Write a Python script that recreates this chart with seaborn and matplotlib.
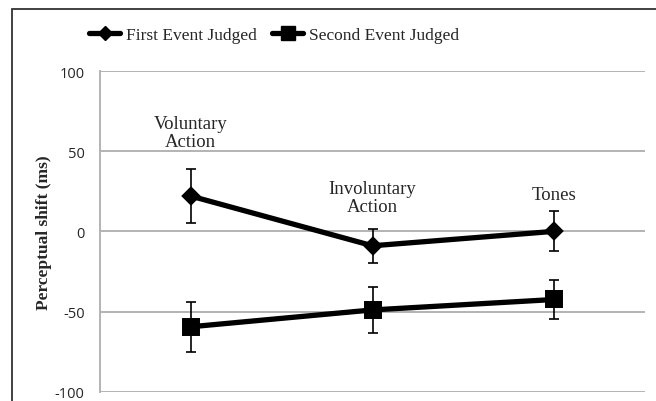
import numpy as np
import pandas as pd
import matplotlib
matplotlib.use("Agg")
import matplotlib.pyplot as plt
import seaborn as sns
from matplotlib.patches import Rectangle
from matplotlib.lines import Line2D

conditions = ["Voluntary\nAction", "Involuntary\nAction", "Tones"]
series_names = ["First Event Judged", "Second Event Judged"]
first_mean = [22, -9, 0]
first_err = [17, 10.5, 12.5]
second_mean = [-59.5, -49, -42.5]
second_err = [15.5, 14.5, 12]

df = pd.DataFrame({
    "condition": conditions * 2,
    "series": [series_names[0]] * 3 + [series_names[1]] * 3,
    "shift": first_mean + second_mean,
})

sns.set_style("white")
plt.rcParams["axes.unicode_minus"] = False
serif = ["Liberation Serif", "DejaVu Serif"]

fig = plt.figure(figsize=(6.56, 4.02), dpi=100)
ax = fig.add_axes([100 / 656, 9.3 / 402, 545 / 656, 320.7 / 402])

sns.pointplot(data=df, x="condition", y="shift", hue="series",
              palette=["black", "black"], markers=["D", "s"],
              linestyles=["-", "-"], errorbar=None, ax=ax,
              markersize=9, linewidth=3.8, legend=False)
for ln in ax.lines:
    if ln.get_marker() == "D":
        ln.set_markersize(7.5)
    elif ln.get_marker() == "s":
        ln.set_markersize(10)

for means, errs in [(first_mean, first_err), (second_mean, second_err)]:
    ax.errorbar(np.arange(len(conditions)), means, yerr=errs, fmt="none",
                ecolor="black", elinewidth=1.2, capsize=3.6, capthick=1.2,
                zorder=5)

ax.set_xlim(-0.5, 2.5)
ax.set_ylim(-100, 100)
ax.set_yticks([-100, -50, 0, 50, 100])
ax.yaxis.grid(True, color="#b3b3b3", linewidth=1.4)
ax.set_axisbelow(True)
for s in ["top", "right", "bottom"]:
    ax.spines[s].set_visible(False)
ax.spines["left"].set_color("#b3b3b3")
ax.spines["left"].set_linewidth(1.4)
ax.tick_params(axis="y", length=4, color="#b3b3b3", width=1.2, pad=7,
               labelsize=10.5)
for lab in ax.get_yticklabels():
    lab.set_fontfamily(["Open Sans", "DejaVu Sans"])
ax.set_xticks([])
ax.set_xlabel("")
ax.set_ylabel("Perceptual shift (ms)", fontfamily=serif, fontweight="bold",
              fontsize=12.5, labelpad=2)

# condition labels above the first series
label_y = [51, 10.5, 17.5]
for i, (txt, yy) in enumerate(zip(conditions, label_y)):
    ax.text(i, yy, txt, ha="center", va="bottom", fontfamily=serif,
            fontsize=13.5, linespacing=1.05)

handles = [
    Line2D([], [], color="black", marker="D", markersize=7, linewidth=3.8),
    Line2D([], [], color="black", marker="s", markersize=9.5, linewidth=3.8),
]
fig.legend(handles, series_names, loc="center", bbox_to_anchor=(274 / 656, 1 - 36 / 402),
           ncol=2, frameon=False, prop={"family": serif, "size": 12.5},
           handlelength=1.8, handletextpad=0.3, columnspacing=0.9)

# outer frame
fig.patches.append(Rectangle((12 / 656, -0.1), 1.2, 1.1 - 10 / 402,
                             transform=fig.transFigure, fill=False,
                             edgecolor="#333333", linewidth=1.3))

fig.savefig("out.png", dpi=100)
